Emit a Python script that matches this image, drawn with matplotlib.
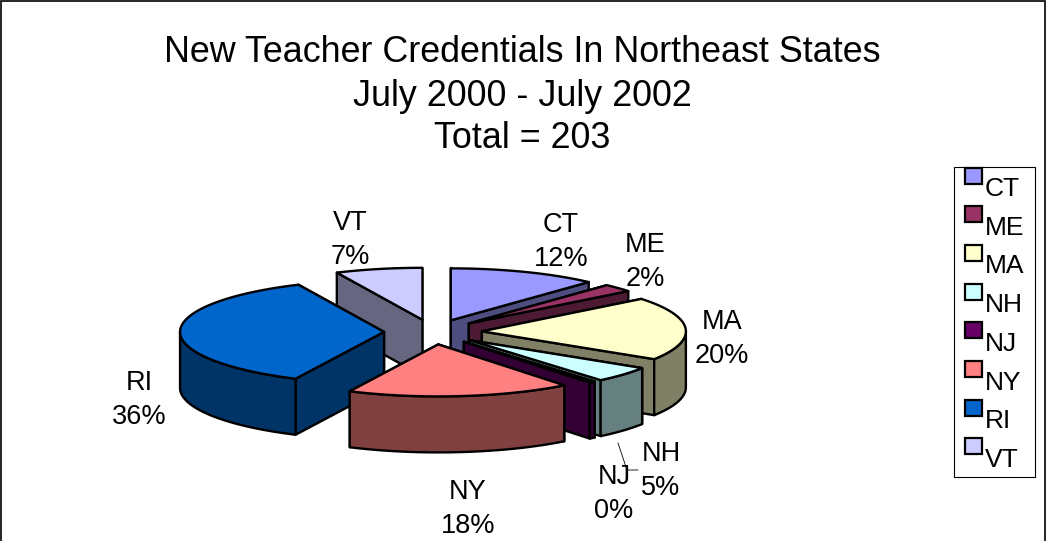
import matplotlib
matplotlib.use("Agg")
import matplotlib.pyplot as plt
from matplotlib.patches import Polygon, Rectangle
import numpy as np

plt.rcParams['font.family'] = ['Liberation Sans', 'DejaVu Sans']

title_lines = ['New Teacher Credentials In Northeast States', 'July 2000 - July 2002', 'Total = 203']
states = ['CT', 'ME', 'MA', 'NH', 'NJ', 'NY', 'RI', 'VT']
counts = [24, 5, 40, 10, 1, 36, 73, 14]
colors = ['#9999FF', '#993366', '#FFFFCC', '#CCFFFF', '#660066', '#FF8080', '#0066CC', '#CCCCFF']

#the pie, in pixels: centre, radii, thickness, how far slices are pulled out
cx, cy = 433, 332
rx, ry = 204, 52
depth = 56
explode = 0.24

#back slices first so the front ones paint over them
draw_order = ['VT', 'CT', 'ME', 'MA', 'NH', 'NJ', 'RI', 'NY']

#label positions (centre x, centre y of the two lines)
label_pos = {'CT': (561, 242), 'ME': (645, 262), 'MA': (722, 339), 'NH': (661, 471),
             'NJ': (614, 494), 'NY': (468, 509), 'RI': (139, 400), 'VT': (350, 240)}


def shade(c):
    rgb = np.array(matplotlib.colors.to_rgb(c))
    return rgb * 0.5


def point(ox, oy, deg):
    t = np.radians(deg)
    return ox + rx * np.sin(t), oy - ry * np.cos(t)


def arc(ox, oy, a0, a1):
    t = np.linspace(a0, a1, 60)
    return [point(ox, oy, d) for d in t]


def draw_slice(ax, a0, a1, color):
    mid = (a0 + a1) / 2
    ox, oy = point(cx, cy, mid)
    ox = cx + (ox - cx) * explode
    oy = cy + (oy - cy) * explode
    dark = shade(color)
    lw = 1.7

    #radial cut faces, upper one first
    faces = sorted([a0, a1], key=lambda a: point(ox, oy, a)[1])
    for a in faces:
        px, py = point(ox, oy, a)
        ax.add_patch(Polygon([(ox, oy), (px, py), (px, py + depth), (ox, oy + depth)],
                             closed=True, fc=dark, ec='black', lw=lw, joinstyle='round'))

    #outer rim, only the part turned towards the viewer
    r0, r1 = max(a0, 90), min(a1, 270)
    if r1 > r0:
        top = arc(ox, oy, r0, r1)
        bottom = [(x, y + depth) for x, y in top[::-1]]
        ax.add_patch(Polygon(top + bottom, closed=True, fc=dark, ec='black', lw=lw, joinstyle='round'))

    ax.add_patch(Polygon([(ox, oy)] + arc(ox, oy, a0, a1), closed=True, fc=color, ec='black',
                         lw=lw, joinstyle='round'))


fig = plt.figure(figsize=(10.5, 5.41), dpi=100)
ax = fig.add_axes([0, 0, 1, 1])
ax.set_xlim(0, 1050)
ax.set_ylim(541, 0)
ax.axis('off')

#chart area border, runs off the bottom of the image
ax.add_patch(Rectangle((0.5, 0.5), 1044, 600, fc='white', ec='black', lw=1.2))

for line, y in zip(title_lines, [53, 96, 139]):
    ax.text(522, y, line, ha='center', va='center', fontsize=25.8, color='black')

total = sum(counts)
angles = np.cumsum([0] + counts) / total * 360
for name in draw_order:
    i = states.index(name)
    draw_slice(ax, angles[i], angles[i + 1], colors[i])

for name, n in zip(states, counts):
    x, y = label_pos[name]
    ax.text(x, y, '%s\n%d%%' % (name, round(n / total * 100)), ha='center', va='center',
            fontsize=19.5, linespacing=1.4, color='black')

#leader line for NJ
ax.plot([618, 627, 638], [443, 470, 470], color='black', lw=0.6)

#legend
ax.add_patch(Rectangle((953.5, 166.5), 81, 310, fc='white', ec='black', lw=0.8))
for i, (name, c) in enumerate(zip(states, colors)):
    top = 167.5 + i * 38.7
    ax.add_patch(Rectangle((964.5, top), 17, 16, fc=c, ec='black', lw=1.6))
    ax.text(985, top + 28.5, name, ha='left', va='baseline', fontsize=19, color='black')

fig.savefig('out.png', dpi=100)
